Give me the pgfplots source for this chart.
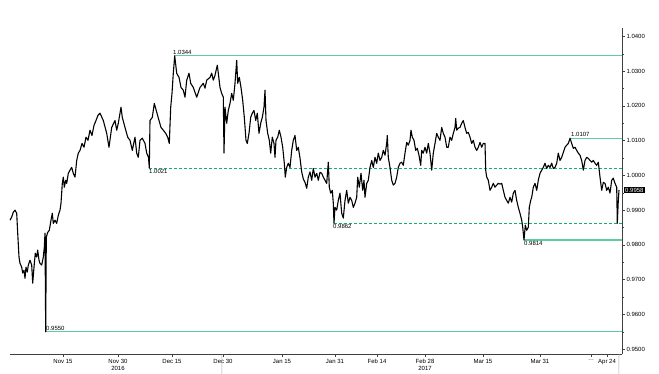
\documentclass[border=0pt]{standalone}
\usepackage{fontspec}
\setmainfont{Liberation Sans}
\usepackage{pgfplots}
\pgfplotsset{compat=1.18}
\definecolor{lvl}{RGB}{95,205,158}
\definecolor{lvld}{RGB}{20,175,105}
\begin{document}
\begin{tikzpicture}
\begin{axis}[
  scale only axis, width=612pt, height=326pt,
  xmin=10, xmax=622, ymin=0.9486, ymax=1.0424,
  axis x line*=bottom, axis y line*=right,
  axis line style={black!75, line width=0.5pt},
  every tick/.style={black!75, line width=0.4pt},
  tick align=outside,
  major tick length=3pt, minor tick length=2pt,
  ytick={0.95,0.96,0.97,0.98,0.99,1.00,1.01,1.02,1.03,1.04},
  minor y tick num=1,
  yticklabel={\pgfmathprintnumber[fixed,fixed zerofill,precision=4,assume math mode=true]{\tick}},
  y tick label style={font=\fontsize{6}{7}\selectfont, xshift=-2pt},
  xtick={63,118,172,223,282,335,377,425,483,540,591,607},
  xticklabels={Nov 15,Nov 30\\2016,Dec 15,Dec 30,Jan 15,Jan 31,Feb 14,Feb 28\\2017,Mar 15,Mar 31,\ldots,Apr 24},
  x tick label style={font=\fontsize{6}{6.5}\selectfont, align=center, yshift=1pt},
  clip=false,
]
% level lines
\addplot[lvl, line width=1.2pt] coordinates {(174,1.0344) (622,1.0344)};
\addplot[lvl, line width=1.2pt] coordinates {(570,1.0107) (622,1.0107)};
\addplot[lvl, line width=1.2pt] coordinates {(524,0.9814) (622,0.9814)};
\addplot[lvl, line width=1.2pt] coordinates {(46,0.9550) (622,0.9550)};
\addplot[lvld, line width=1pt, dash pattern=on 2.5pt off 2.5pt] coordinates {(149,1.0021) (622,1.0021)};
\addplot[lvld, line width=1pt, dash pattern=on 2.5pt off 2.5pt] coordinates {(334,0.9862) (622,0.9862)};
% price series
\addplot[black, line width=1.1pt, line join=round] coordinates {
(10,0.9871) (11.7,0.9880) (13.3,0.9894) (15,0.9900) (16.7,0.9891) (17.7,0.9834) (19,0.9765) (20,0.9747)
(21.7,0.9736) (22.7,0.9719) (24,0.9727) (25,0.9704) (26,0.9736) (27.3,0.9722) (28.3,0.9742) (30,0.9756)
(31.7,0.9742) (32.7,0.9690) (34,0.9736) (35.3,0.9776) (36.7,0.9765) (37.7,0.9785) (39,0.9756) (40,0.9747)
(41.7,0.9742) (43.3,0.9765) (44.3,0.9793) (45,0.9834) (45.7,0.9550) (46.3,0.9822) (47.7,0.9836) (49.3,0.9842)
(51,0.9871) (52.3,0.9891) (53.3,0.9862) (55,0.9871) (56.7,0.9862) (58.3,0.9885) (60,0.9900) (61,0.9920)
(62.3,0.9977) (63.3,0.9995) (64.3,0.9966) (65.7,0.9986) (66.7,0.9977) (68.3,1.0006) (70,1.0015) (71.7,1.0023)
(73.3,1.0006) (75,0.9995) (76.7,1.0043) (78.3,1.0064) (80,1.0072) (82,1.0092) (84,1.0081) (86,1.0110)
(88,1.0101) (90,1.0130) (92,1.0115) (94,1.0144) (96,1.0158) (98,1.0173) (100,1.0179)
(103.3,1.0158) (106.7,1.0121) (109,1.0081) (111.7,1.0138) (115,1.0158) (116.7,1.0130) (118.3,1.0150)
(121,1.0196) (122.3,1.0167) (125,1.0138) (127.7,1.0110) (130,1.0101) (132.3,1.0072) (135,1.0110)
(136.7,1.0064) (138.3,1.0052) (140,1.0101) (142.3,1.0107) (145,1.0092) (146.7,1.0064) (148.5,1.0052)
(149.3,1.0021) (150,1.0158) (152.3,1.0167) (154.3,1.0207) (156.7,1.0182) (159,1.0158) (161,1.0138)
(163.3,1.0130) (165.7,1.0121) (167.7,1.0110) (169.3,1.0092) (170.7,1.0196) (172,1.0236) (173.3,1.0294)
(174.7,1.0344) (176.7,1.0294) (179,1.0282) (181,1.0253) (183.3,1.0245) (185,1.0225) (186.7,1.0274)
(189,1.0294) (190.7,1.0265) (193.3,1.0253) (196.7,1.0225) (200,1.0253) (203.3,1.0265) (205,1.0251)
(206.7,1.0274) (210,1.0282)
(211.7,1.0294) (213.3,1.0274) (215,1.0288) (217.3,1.0317) (218.3,1.0294) (220,1.0253) (221.7,1.0236)
(223.3,1.0225) (224,1.0064) (225,1.0196) (226.7,1.0150) (228.3,1.0187) (230,1.0207) (231.7,1.0236)
(233.3,1.0216) (235,1.0265) (236.7,1.0331) (237.7,1.0265) (239.3,1.0282) (241,1.0253) (242.7,1.0216)
(244.3,1.0167) (246,1.0101) (247.3,1.0092) (249,1.0121) (250.7,1.0167) (252.3,1.0179) (254,1.0187)
(255.7,1.0158) (257.3,1.0179) (259,1.0121) (260.7,1.0150) (262.3,1.0167) (264,1.0196) (265,1.0245)
(266,1.0158) (267.7,1.0121) (269.3,1.0101) (270.7,1.0064) (272.3,1.0110) (274,1.0092) (275,1.0052)
(276,1.0101) (277.7,1.0110) (279.3,1.0130) (281,1.0110) (282.7,1.0081) (284.3,1.0035) (285.3,0.9995)
(286.7,1.0023) (288.3,1.0035) (290,1.0023) (291.7,1.0072) (293.3,1.0101) (295,1.0115) (296.7,1.0072)
(298.3,1.0081) (300,1.0050) (301.7,1.0010) (303.3,0.9990) (305,0.9980) (306.7,0.9963) (308.3,0.9995)
(310,1.0010)
(311.7,0.9986) (313.3,1.0020) (315,0.9995) (316.7,1.0006) (318.3,0.9986) (320,1.0009) (321.7,1.0006)
(323.3,0.9995) (325,0.9986) (326.7,0.9977) (328.3,1.0038) (329.3,0.9966) (330.7,0.9949) (332.3,0.9957)
(333.3,0.9920) (334,0.9862) (335,0.9908) (336.7,0.9900) (338.3,0.9928) (340,0.9949) (341.7,0.9891)
(343.3,0.9877) (345,0.9928) (346.7,0.9957) (348.3,0.9920) (350,0.9937) (351.7,0.9928) (353.3,0.9908)
(355,0.9920) (356.7,0.9937) (357.7,0.9995) (359.3,0.9966) (361,1.0006) (362.7,0.9957) (364,0.9986)
(365,0.9937) (366.7,0.9977) (368.3,0.9986) (370,1.0023) (371.7,1.0043) (373.3,1.0023) (375,1.0052)
(376.7,1.0035) (378.3,1.0064) (380,1.0043) (381.7,1.0052) (383.3,1.0072) (385,1.0058) (386.7,1.0092)
(387.3,1.0115) (388.3,1.0052) (390,1.0023) (391.7,0.9986) (393.3,0.9972) (395,0.9977) (396.7,0.9995)
(398.3,1.0023) (400,1.0035) (401.7,1.0038) (403.3,1.0029) (405,1.0064) (406.7,1.0095) (408.3,1.0087)
(410,1.0101)
(411,1.0130) (412.3,1.0110) (414,1.0101) (415.7,1.0072) (417.3,1.0078) (419,1.0058) (420.7,1.0029)
(421.7,1.0072) (423.3,1.0064) (425,1.0081) (426.7,1.0064) (428.3,1.0092) (430,1.0064) (431.7,1.0015)
(433.3,1.0064) (435,1.0092) (436.7,1.0121) (438.3,1.0110) (440,1.0101) (441.7,1.0138) (443.3,1.0121)
(445,1.0110) (446.7,1.0081) (448.3,1.0081) (450,1.0110) (451.7,1.0101) (453.3,1.0121) (455,1.0138)
(455.7,1.0164) (456.7,1.0130) (458.3,1.0136) (460,1.0138) (461.7,1.0150) (463.3,1.0158) (465,1.0138)
(466.7,1.0121) (468.3,1.0124) (470,1.0110) (471.7,1.0092) (473.3,1.0101) (475,1.0081) (476.7,1.0072)
(478.3,1.0081) (480,1.0095) (481.7,1.0081) (483.3,1.0092) (485,1.0092) (485.7,1.0015) (486.7,0.9995)
(488.3,0.9986) (490,0.9957) (491.7,0.9966) (493.3,0.9977) (495,0.9966) (496.7,0.9972) (498.3,0.9977)
(500,0.9975)
(501.7,0.9977) (503.3,0.9957) (505,0.9937) (506.7,0.9928) (508.3,0.9920) (510,0.9937) (511.7,0.9923)
(513.3,0.9949) (515,0.9957) (516.7,0.9928) (518.3,0.9908) (520,0.9891) (521.7,0.9871) (522.7,0.9851)
(524,0.9814) (525.3,0.9857) (526.7,0.9842) (528.3,0.9851) (529.3,0.9908) (530.7,0.9928) (531.7,0.9937)
(533.3,0.9966) (535,0.9977) (536.7,0.9957) (538.3,0.9986) (540,1.0006) (541.7,1.0015) (543.3,1.0023)
(545,1.0035) (546.7,1.0020) (548.3,1.0029) (550,1.0023) (551.7,1.0035) (553.3,1.0020) (555,1.0023)
(556.7,1.0035) (558.3,1.0064) (560,1.0043) (561.7,1.0052) (563.3,1.0066) (565,1.0081) (566.7,1.0087)
(568.3,1.0092) (570,1.0107) (571.7,1.0092) (573.3,1.0078) (575,1.0081) (576.7,1.0072) (578.3,1.0064)
(580,1.0058) (581.7,1.0043) (583.3,1.0015) (585,1.0043) (586.7,1.0052) (588.3,1.0049) (590,1.0043)
(591.7,1.0038) (593.3,1.0043) (595,1.0035) (596.7,1.0029) (598.3,1.0038) (600,0.9995) (601.7,0.9957)
(603.3,0.9980) (605,0.9977) (606.7,0.9957) (608.3,0.9966) (610,0.9949) (611.7,0.9986) (613.3,0.9992)
(615,0.9977) (616.7,0.9966) (617.3,0.9862) (618.3,0.9928) (619,0.9958)
};
% level annotations
\node[font=\fontsize{6}{7}\selectfont, anchor=south west, inner sep=1pt] at (axis cs:172,1.0344) {1.0344};
\node[font=\fontsize{6}{7}\selectfont, anchor=south west, inner sep=1pt] at (axis cs:570,1.0107) {1.0107};
\node[font=\fontsize{6}{7}\selectfont, anchor=north west, inner sep=1pt] at (axis cs:148,1.0021) {1.0021};
\node[font=\fontsize{6}{7}\selectfont, anchor=north west, inner sep=1pt] at (axis cs:332,0.9862) {0.9862};
\node[font=\fontsize{6}{7}\selectfont, anchor=north west, inner sep=1pt] at (axis cs:523,0.9814) {0.9814};
\node[font=\fontsize{6}{7}\selectfont, anchor=south west, inner sep=1pt] at (axis cs:45,0.9550) {0.9550};
% last price box
\node[font=\fontsize{6}{7}\selectfont, anchor=west, fill=black, text=white, inner sep=1pt, xshift=2pt] at (axis cs:622,0.9958) {0.9958};
% year separators
\draw[black!35, line width=0.5pt] (axis cs:222,0.9486) -- ++(0,-18pt);
\draw[black!35, line width=0.5pt] (axis cs:619,0.9486) -- ++(0,-18pt);
\coordinate (sw) at (rel axis cs:0,0);
\coordinate (ne) at (rel axis cs:1,1);
\end{axis}
\pgfresetboundingbox
\path[use as bounding box] (sw) ++(-10pt,-20pt) rectangle ([shift={(37pt,28pt)}]ne);
\end{tikzpicture}
\end{document}
